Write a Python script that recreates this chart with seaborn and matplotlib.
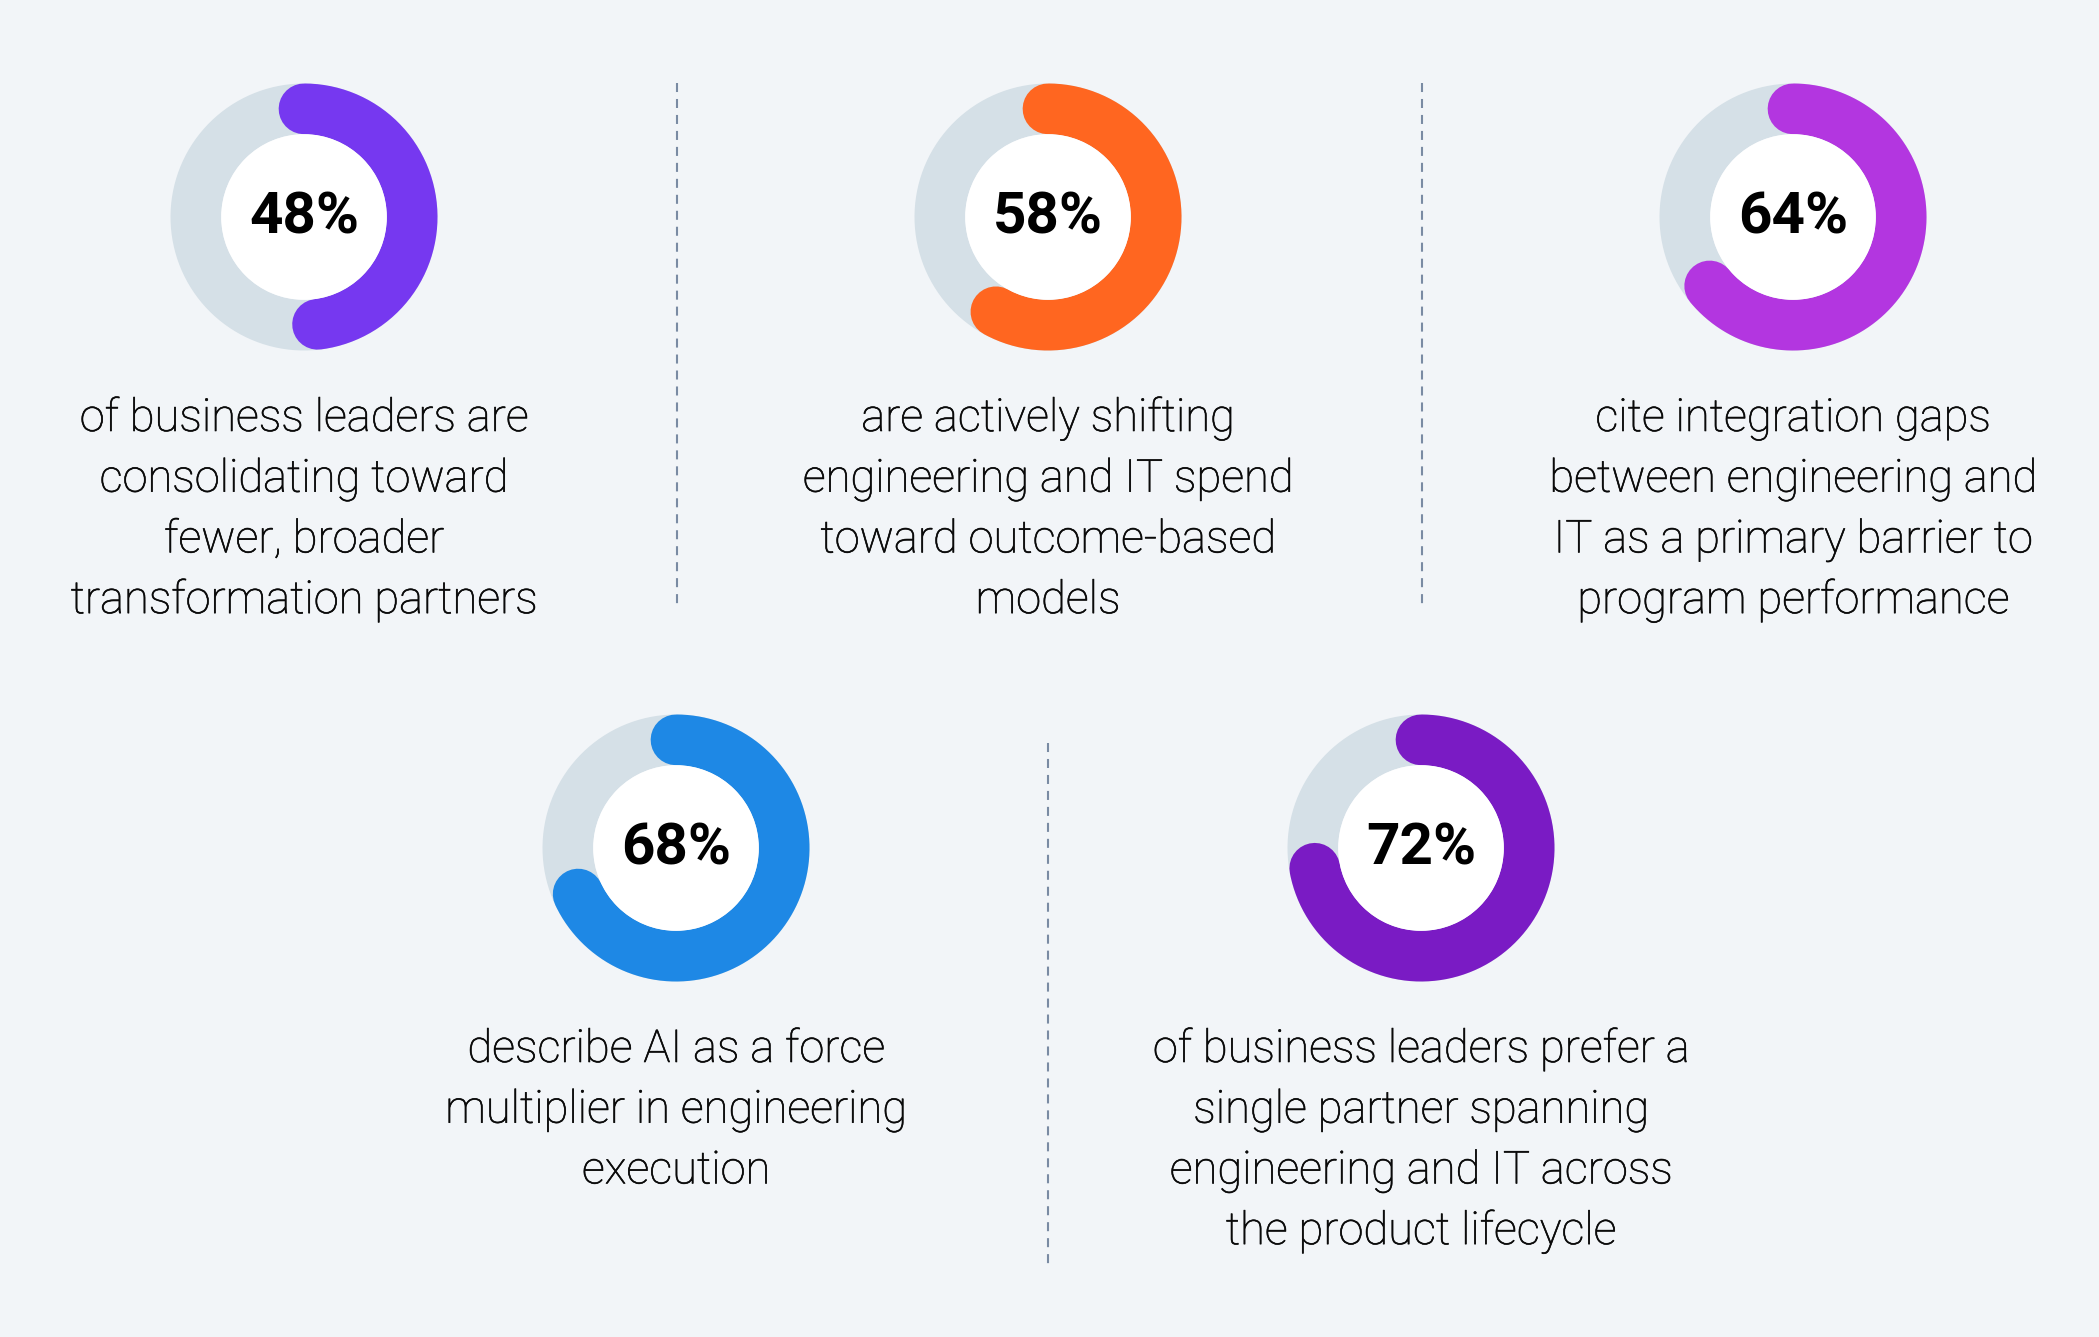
import numpy as np
import matplotlib
matplotlib.use("Agg")
import matplotlib.pyplot as plt
from matplotlib.patches import Circle
import matplotlib.patheffects as pe
import seaborn as sns

# ---------------- data ----------------
values = [48, 58, 64, 68, 72]
descriptions = [
    ["of business leaders are", "consolidating toward", "fewer, broader", "transformation partners"],
    ["are actively shifting", "engineering and IT spend", "toward outcome-based", "models"],
    ["cite integration gaps", "between engineering and", "IT as a primary barrier to", "program performance"],
    ["describe AI as a force", "multiplier in engineering", "execution"],
    ["of business leaders prefer a", "single partner spanning", "engineering and IT across", "the product lifecycle"],
]
colors = ["#7638F0", "#FF6620", "#B336E0", "#1E88E5", "#7A1BC4"]

# ---------------- layout ----------------
W, H, DPI = 2099, 1337, 100
centers = [(304, 217), (1048, 217), (1793, 217), (676, 848), (1421, 848)]
text_base = [431, 431, 431, 1062, 1062]
separators = [(677, 83, 605), (1422, 83, 605), (1048, 743, 1265)]
R_OUT, R_IN = 133.5, 82.8
R_MID = (R_OUT + R_IN) / 2
RING_W = R_OUT - R_IN
LINE_STEP = 60.7

BG = "#F2F5F8"
TRACK = "#D5E0E7"
TXT = "#0A0A0A"

sns.set_theme(style="white", rc={"axes.facecolor": BG, "figure.facecolor": BG})
plt.rcParams["lines.scale_dashes"] = False

fig = plt.figure(figsize=(W / DPI, H / DPI), dpi=DPI)
ax = fig.add_axes([0, 0, 1, 1])
ax.set_xlim(0, W)
ax.set_ylim(H, 0)
ax.set_axis_off()

lw_pt = RING_W * 72 / DPI
thicken = [pe.withStroke(linewidth=0.45, foreground=TXT)]

for (cx, cy), v, col, desc, tb in zip(centers, values, colors, descriptions, text_base):
    # track
    t = np.linspace(0, 2 * np.pi, 400)
    ax.plot(cx + R_MID * np.sin(t), cy - R_MID * np.cos(t), color=TRACK,
            lw=lw_pt, solid_capstyle="butt", zorder=1)
    # value arc (clockwise from 12 o'clock)
    a = np.linspace(0, 2 * np.pi * v / 100, 300)
    ax.plot(cx + R_MID * np.sin(a), cy - R_MID * np.cos(a), color=col,
            lw=lw_pt, solid_capstyle="round", zorder=2)
    ax.add_patch(Circle((cx, cy), R_IN, facecolor="white", edgecolor="none", zorder=3))
    ax.text(cx, cy + 1, f"{v}%", ha="center", va="center", fontsize=42,
            fontweight="bold", family=["Roboto", "DejaVu Sans"],
            color="#000000", zorder=4)
    for i, line in enumerate(desc):
        ax.text(cx, tb + i * LINE_STEP, line, ha="center", va="baseline",
                fontsize=32.6, fontweight="light", family=["Roboto", "DejaVu Sans"],
                color=TXT, path_effects=thicken)

for x, y0, y1 in separators:
    ax.plot([x, x], [y0, y1], color="#7A8BA3", lw=1.5, dashes=(6.5, 5), zorder=0)

fig.savefig("out.png", dpi=DPI, facecolor=BG)
